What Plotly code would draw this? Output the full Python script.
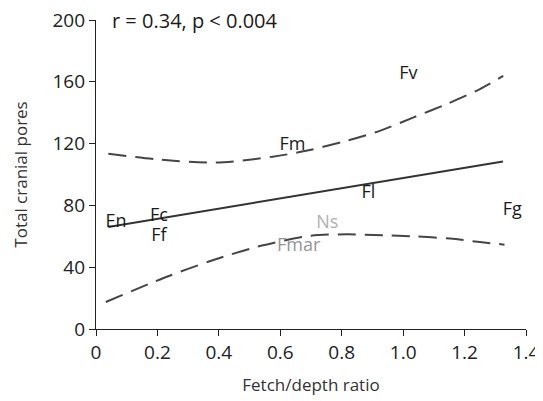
import plotly.graph_objects as go

# Labelled sites
site_names = ["En", "Fc", "Ff", "Fm", "Fv", "Fl", "Fg", "Ns", "Fmar"]
site_x = [0.065, 0.205, 0.205, 0.64, 1.017, 0.887, 1.355, 0.753, 0.66]
site_y = [69, 73, 60, 119, 165, 88, 77, 68, 53.5]
site_colors = ["#1a1a1a"] * 7 + ["#b0b0b0", "#959595"]

# Regression line
fit_x = [0.04, 1.325]
fit_y = [66, 108.4]

# Confidence band
upper_x = [0.04, 0.2, 0.39, 0.575, 0.688, 0.818, 0.926, 1.034, 1.142, 1.25, 1.326]
upper_y = [113.5, 109.8, 107.7, 111.5, 115.5, 121.9, 128.4, 137, 145.6, 155.3, 163.9]
lower_x = [0.032, 0.22, 0.38, 0.54, 0.698, 0.817, 0.936, 1.033, 1.153, 1.25, 1.33]
lower_y = [17.5, 33, 44.5, 54, 60.3, 61.3, 60.6, 60, 58.5, 56.3, 54.6]

x_ticks = [0, 0.2, 0.4, 0.6, 0.8, 1.0, 1.2, 1.4]
x_tick_text = ["0", "0.2", "0.4", "0.6", "0.8", "1.0", "1.2", "1.4"]
y_ticks = [0, 40, 80, 120, 160, 200]

font_family = "Open Sans, Noto Sans, sans-serif"

fig = go.Figure()
dash = "18px,9px"
fig.add_trace(go.Scatter(x=upper_x, y=upper_y, mode="lines",
                         line=dict(color="#454545", width=2, dash=dash, shape="spline", smoothing=0.8),
                         hoverinfo="skip"))
fig.add_trace(go.Scatter(x=lower_x, y=lower_y, mode="lines",
                         line=dict(color="#454545", width=2, dash=dash, shape="spline", smoothing=0.8),
                         hoverinfo="skip"))
fig.add_trace(go.Scatter(x=fit_x, y=fit_y, mode="lines",
                         line=dict(color="#333333", width=2), hoverinfo="skip"))
fig.add_trace(go.Scatter(x=site_x, y=site_y, mode="text", text=site_names,
                         textposition="middle center", cliponaxis=False,
                         textfont=dict(family=font_family, size=18, color=site_colors)))

fig.add_annotation(x=0.045, y=200, xref="x", yref="y", text="r = 0.34, p < 0.004",
                   showarrow=False, xanchor="left", yanchor="middle",
                   font=dict(family=font_family, size=20, color="#1a1a1a"))

fig.update_layout(
    width=535, height=393,
    margin=dict(l=88, r=17, t=12, b=72),
    paper_bgcolor="white", plot_bgcolor="white",
    showlegend=False,
    font=dict(family=font_family, size=17, color="#222222"),
)
fig.update_xaxes(range=[0, 1.4], tickvals=x_ticks, ticktext=x_tick_text, automargin=False,
                 ticklabeloverflow="allow",
                 showgrid=False, zeroline=False, showline=True, linecolor="#222222",
                 linewidth=1.3, ticks="outside", ticklen=6, tickcolor="#222222",
                 tickfont=dict(size=19, color="#222222"),
                 title=dict(text="Fetch/depth ratio", font=dict(size=17, color="#333333"), standoff=15))
fig.update_yaxes(range=[0, 200], tickvals=y_ticks, automargin=False,
                 ticklabeloverflow="allow",
                 showgrid=False, zeroline=False, showline=True, linecolor="#222222",
                 linewidth=1.3, ticks="outside", ticklen=6, tickcolor="#222222",
                 tickfont=dict(size=19, color="#222222"),
                 title=dict(text="Total cranial pores", font=dict(size=17, color="#333333"), standoff=20))

fig.write_html("out.html")
